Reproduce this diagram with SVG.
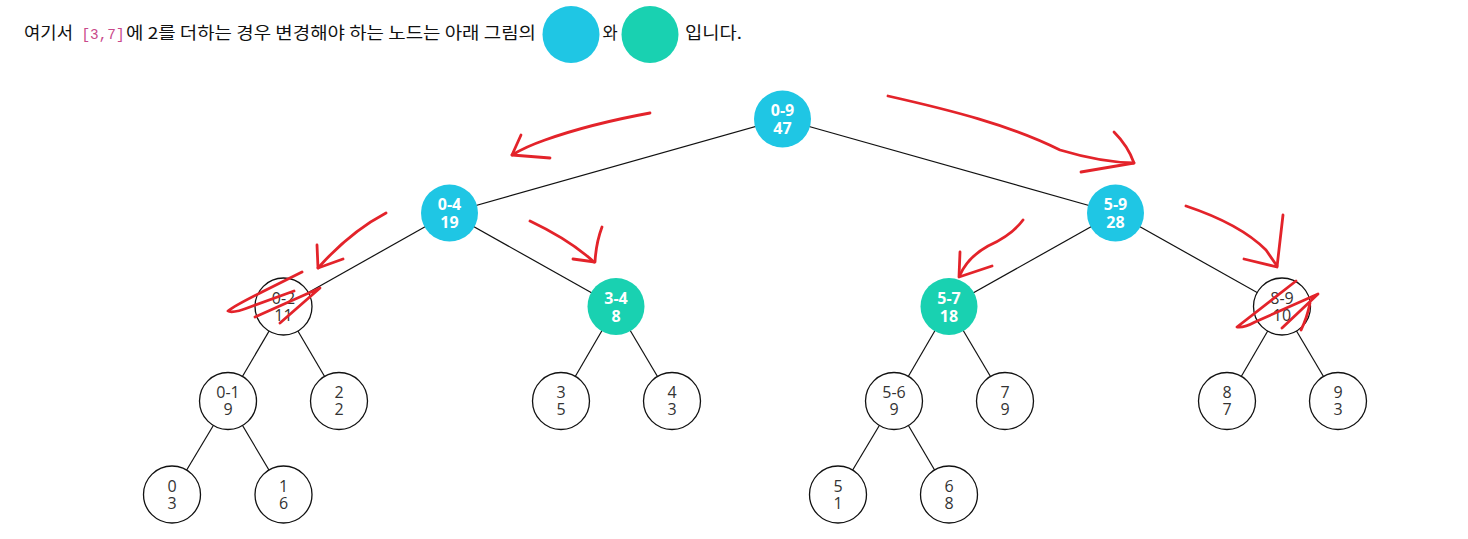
<svg xmlns="http://www.w3.org/2000/svg" width="1468" height="539" viewBox="0 0 1468 539">
<style>
.hdr{font-family:"Noto Sans CJK KR","Malgun Gothic","Noto Sans",sans-serif;font-size:16.5px;fill:#111}
.code{font-family:"Liberation Mono","DejaVu Sans Mono",monospace;font-size:14px;fill:#c9498a}
.edge{stroke:#111;stroke-width:1.2;fill:none}
.plain circle{fill:#fff;stroke:#111;stroke-width:1.3}
.plain text{font-family:"Open Sans","Noto Sans",sans-serif;font-size:16px;fill:#333;text-anchor:middle}
.blue circle{fill:#1fc6e4}
.green circle{fill:#19d1b1}
.blue text,.green text{font-family:"Open Sans","Noto Sans",sans-serif;font-size:16px;font-weight:bold;fill:#fff;text-anchor:middle}
.red{stroke:#e3232a;stroke-width:2.8;fill:none;stroke-linecap:round;stroke-linejoin:round}
</style>
<g id="header">
<text class="hdr" x="24" y="38.5" textLength="49" lengthAdjust="spacingAndGlyphs">여기서</text>
<text class="code" x="81.5" y="38.5" textLength="43" lengthAdjust="spacingAndGlyphs">[3,7]</text>
<text class="hdr" x="126" y="38.5" textLength="410" lengthAdjust="spacingAndGlyphs">에 2를 더하는 경우 변경해야 하는 노드는 아래 그림의</text>
<circle cx="571" cy="34.5" r="28.5" fill="#1fc6e4"/>
<text class="hdr" x="602.5" y="38.5">와</text>
<circle cx="650" cy="34.5" r="28.5" fill="#19d1b1"/>
<text class="hdr" x="685" y="38.5" textLength="57" lengthAdjust="spacingAndGlyphs">입니다.</text>
</g>
<g id="connectors">
<line class="edge" x1="782.5" y1="119" x2="449.5" y2="213"/>
<line class="edge" x1="782.5" y1="119" x2="1115.5" y2="213"/>
<line class="edge" x1="449.5" y1="213" x2="283.5" y2="306.5"/>
<line class="edge" x1="449.5" y1="213" x2="616" y2="306.5"/>
<line class="edge" x1="1115.5" y1="213" x2="949" y2="306.5"/>
<line class="edge" x1="1115.5" y1="213" x2="1282" y2="306.5"/>
<line class="edge" x1="283.5" y1="306.5" x2="228" y2="401"/>
<line class="edge" x1="283.5" y1="306.5" x2="339" y2="401"/>
<line class="edge" x1="616" y1="306.5" x2="561" y2="401"/>
<line class="edge" x1="616" y1="306.5" x2="672" y2="401"/>
<line class="edge" x1="949" y1="306.5" x2="894" y2="401"/>
<line class="edge" x1="949" y1="306.5" x2="1005" y2="401"/>
<line class="edge" x1="1282" y1="306.5" x2="1227" y2="401"/>
<line class="edge" x1="1282" y1="306.5" x2="1338" y2="401"/>
<line class="edge" x1="228" y1="401" x2="172" y2="494.5"/>
<line class="edge" x1="228" y1="401" x2="283.5" y2="494.5"/>
<line class="edge" x1="894" y1="401" x2="838" y2="494.5"/>
<line class="edge" x1="894" y1="401" x2="949" y2="494.5"/>
</g>
<g id="n0-9" class="blue"><circle cx="782.5" cy="119" r="28.5"/><text x="782.5" y="116">0-9<tspan x="782.5" dy="17.5">47</tspan></text></g>
<g id="n0-4" class="blue"><circle cx="449.5" cy="213" r="28.5"/><text x="449.5" y="210">0-4<tspan x="449.5" dy="17.5">19</tspan></text></g>
<g id="n5-9" class="blue"><circle cx="1115.5" cy="213" r="28.5"/><text x="1115.5" y="210">5-9<tspan x="1115.5" dy="17.5">28</tspan></text></g>
<g id="n0-2" class="plain"><circle cx="283.5" cy="306.5" r="28.5"/><text x="283.5" y="304">0-2<tspan x="283.5" dy="17">11</tspan></text></g>
<g id="n3-4" class="green"><circle cx="616" cy="306.5" r="28.5"/><text x="616" y="304">3-4<tspan x="616" dy="17.5">8</tspan></text></g>
<g id="n5-7" class="green"><circle cx="949" cy="306.5" r="28.5"/><text x="949" y="304">5-7<tspan x="949" dy="17.5">18</tspan></text></g>
<g id="n8-9" class="plain"><circle cx="1282" cy="306.5" r="28.5"/><text x="1282" y="304">8-9<tspan x="1282" dy="17">10</tspan></text></g>
<g id="n0-1" class="plain"><circle cx="228" cy="401" r="28.5"/><text x="228" y="398">0-1<tspan x="228" dy="17">9</tspan></text></g>
<g id="n2" class="plain"><circle cx="339" cy="401" r="28.5"/><text x="339" y="398">2<tspan x="339" dy="17">2</tspan></text></g>
<g id="n3" class="plain"><circle cx="561" cy="401" r="28.5"/><text x="561" y="398">3<tspan x="561" dy="17">5</tspan></text></g>
<g id="n4" class="plain"><circle cx="672" cy="401" r="28.5"/><text x="672" y="398">4<tspan x="672" dy="17">3</tspan></text></g>
<g id="n5-6" class="plain"><circle cx="894" cy="401" r="28.5"/><text x="894" y="398">5-6<tspan x="894" dy="17">9</tspan></text></g>
<g id="n7" class="plain"><circle cx="1005" cy="401" r="28.5"/><text x="1005" y="398">7<tspan x="1005" dy="17">9</tspan></text></g>
<g id="n8" class="plain"><circle cx="1227" cy="401" r="28.5"/><text x="1227" y="398">8<tspan x="1227" dy="17">7</tspan></text></g>
<g id="n9" class="plain"><circle cx="1338" cy="401" r="28.5"/><text x="1338" y="398">9<tspan x="1338" dy="17">3</tspan></text></g>
<g id="n0" class="plain"><circle cx="172" cy="494.5" r="28.5"/><text x="172" y="491.5">0<tspan x="172" dy="17">3</tspan></text></g>
<g id="n1" class="plain"><circle cx="283.5" cy="494.5" r="28.5"/><text x="283.5" y="491.5">1<tspan x="283.5" dy="17">6</tspan></text></g>
<g id="n5" class="plain"><circle cx="838" cy="494.5" r="28.5"/><text x="838" y="491.5">5<tspan x="838" dy="17">1</tspan></text></g>
<g id="n6" class="plain"><circle cx="949" cy="494.5" r="28.5"/><text x="949" y="491.5">6<tspan x="949" dy="17">8</tspan></text></g>
<g id="annotations">
<path class="red" d="M650,113 Q590,124 545,140 Q525,147 512,155"/>
<path class="red" d="M521,135 L512,155 L550,158"/>
<path class="red" d="M888,96 C950,110 1010,125 1060,150 Q1100,162 1134,163"/>
<path class="red" d="M1114,132 Q1128,146 1134,163 L1081,172"/>
<path class="red" d="M386,213 Q350,232 318,268"/>
<path class="red" d="M317,245 L318,268 L343,259"/>
<path class="red" d="M530,221 Q570,240 594,262"/>
<path class="red" d="M602,227 Q596,243 595,262 L573,259"/>
<path class="red" d="M1023,220 Q1012,235 988,246 Q968,257 960,275"/>
<path class="red" d="M960,252 L959,277 L992,266"/>
<path class="red" d="M1186,206 Q1240,224 1266,250 L1277,266"/>
<path class="red" d="M1283,215 L1277,267 L1244,259"/>
<path class="red" d="M302,272 L262,292 Q234,306 228,311 Q232,314 250,307 L294,291"/>
<path class="red" d="M255,317 L320,288 L280,323"/>
<path class="red" d="M1296,281 L1237,327 Q1244,328 1255,322 L1318,294 L1282,328"/>
<path class="red" d="M1310,303 Q1307,318 1301,330"/>
</g>
</svg>
